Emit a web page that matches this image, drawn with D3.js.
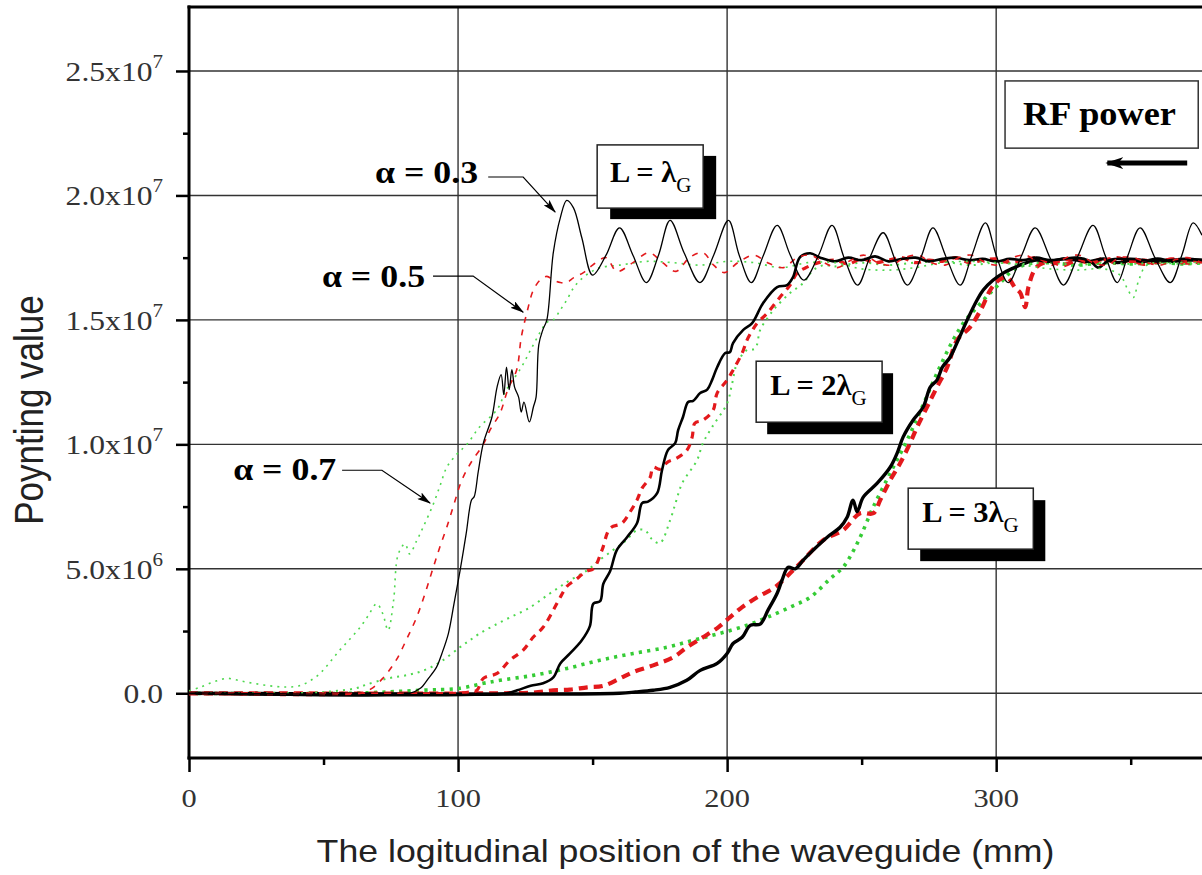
<!DOCTYPE html>
<html>
<head>
<meta charset="utf-8">
<script src="https://cdn.jsdelivr.net/npm/d3@7"></script>
<style>
  body { margin: 0; background: #fff; }
  svg { display: block; }
</style>
</head>
<body>
<svg id="chart" width="1202" height="875"></svg>
<script>
// ---- Axis ticks (Poynting values in units of 1e6) ----
const xTicks = [0, 100, 200, 300];
const xMinorTicks = [50, 150, 250, 350];
const yTicks = [0, 5, 10, 15, 20, 25];
const yTickMantissa = ["0.0", "5.0x10", "1.0x10", "1.5x10", "2.0x10", "2.5x10"];
const yTickExponent = ["", "6", "7", "7", "7", "7"];
const yMinorTicks = [2.5, 7.5, 12.5, 17.5, 22.5];

// ---- Series: [position (mm), Poynting value (x1e6)] ----
// L = λG
const lg1_a03 = [[0,0],[82,0],[86,0.2],[89,0.6],[92,1.05],[94,1.6],[96.4,2.4],[98.5,3.6],[100.7,4.9],[103,6.4],[105,7.76],[106,7.9],[107.5,8.9],[109.4,10.05],[112.6,11.1],[114.5,12.3],[116,12.8],[117,12.0],[118,13.1],[119,12.2],[120,13.0],[121,12.3],[122.5,11.9],[123.5,11.3],[124.5,11.7],[126.5,10.9],[128,11.5],[129,11.9],[130,14.0],[131.5,14.6],[133,15.0],[135.4,17.7],[138,19.1],[140.4,19.8],[142.9,19.5],[146,18.3],[150,16.8],[155,17.6],[160,18.7],[165,17.6],[170,16.5],[174.5,17.6],[178.8,19.0],[184,17.7],[189.9,16.5],[195,17.6],[200.5,19.0],[204.5,17.6],[209,16.5],[213.5,17.6],[218.6,18.8],[223.5,17.6],[228.5,16.6],[234,17.6],[239,18.8],[243.5,17.5],[248.5,16.4],[253,17.5],[258,18.5],[262.5,17.4],[267,16.4],[272,17.5],[276.5,18.7],[281.5,17.5],[286.6,16.4],[291,17.6],[296,18.9],[300,17.6],[304.5,16.5],[309.5,17.6],[314.5,18.7],[320,17.5],[325,16.4],[330.5,17.6],[336,18.8],[340.5,17.6],[345,16.5],[349,17.6],[353.5,18.7],[359,17.5],[364.7,16.5],[369,17.6],[373.2,18.9],[376.5,18.4]];
const lg1_a05 = [[0,0],[64,0],[68,0.2],[72,0.6],[77,1.33],[81,2.2],[84.6,3.05],[88,4.1],[90.8,5.06],[93,5.8],[95.8,6.67],[98.5,7.6],[101.4,8.56],[105,9.3],[109.4,10.0],[112,10.6],[115.6,11.25],[118.5,12.2],[121.8,13.0],[123.5,14.3],[125.6,15.3],[128,16.2],[130.5,16.6],[133,16.75],[135.4,16.6],[138,16.5],[140.4,16.5],[143,16.7],[146.6,16.9],[150,17.2],[155,17.5],[159,16.95],[165,17.3],[171,17.7],[176,17.3],[181,16.95],[186,17.5],[191,17.7],[195,17.2],[199,16.9],[204,17.3],[210,17.6],[215,17.3],[221,17.1],[226,17.5],[231,17.6],[236,17.3],[241,17.1],[246,17.4],[251,17.6],[256,17.3],[261,17.2],[266,17.5],[271,17.6],[276,17.3],[281,17.2],[286,17.5],[291,17.6],[296,17.3],[301,17.2],[306,17.5],[311,17.6],[316,17.3],[321,17.2],[326,17.5],[331,17.6],[336,17.3],[341,17.2],[346,17.5],[351,17.5],[356,17.3],[361,17.2],[366,17.4],[371,17.5],[376.5,17.3]];
const lg1_a07 = [[0,0.1],[4,0.24],[9,0.45],[14,0.6],[19,0.5],[24,0.4],[30,0.3],[36,0.25],[41,0.3],[45,0.5],[48.7,0.8],[52,1.2],[56,1.73],[60,2.2],[63.6,2.65],[66.5,3.1],[69.8,3.6],[72,3.2],[74,2.53],[76,3.7],[77.8,5.6],[80.3,6.0],[82,5.6],[84.5,6.1],[87,6.67],[90.8,7.6],[93.5,8.4],[95.8,9.08],[99.5,9.6],[103.3,10.0],[108,10.7],[114.5,11.4],[118,12.2],[123,13.0],[127,13.8],[130.5,14.5],[133,14.9],[135.4,15.0],[138,15.4],[140.4,15.8],[143,16.3],[145.4,16.6],[149,16.9],[152.8,17.1],[160,17.2],[170,17.35],[180,17.3],[190,17.2],[200,17.35],[210,17.3],[220,17.1],[230,17.3],[240,17.3],[250,17.05],[260,17.0],[270,17.1],[280,17.3],[290,17.35],[300,17.3],[310,17.2],[320,17.05],[330,17.0],[340,17.05],[346,16.8],[349,16.2],[351,15.9],[353,16.6],[356,17.2],[365,17.3],[376.5,17.3]];

// L = 2λG
const lg2_a03 = [[0,0],[118,0],[122,0.12],[127,0.3],[131.6,0.4],[135.4,0.64],[138,1.2],[141.6,1.6],[146,2.13],[149,2.7],[150.3,3.6],[152.8,3.7],[154,4.4],[156.5,4.9],[159,5.75],[162.8,6.27],[166.5,6.83],[168.4,7.64],[170.6,7.7],[174,8.04],[175.8,8.96],[178,9.77],[180.7,10.05],[181.8,10.57],[183.6,11.1],[185.5,11.7],[187.4,11.75],[190,12.06],[192.6,12.2],[194.4,12.58],[196.3,13.1],[199.3,13.67],[201,13.7],[202.2,14.07],[206,14.6],[209.3,14.87],[213.4,15.68],[218.6,16.32],[222.3,16.4],[224.5,16.72],[227.1,17.52],[230.9,17.68],[234.6,17.5],[240,17.35],[245,17.5],[250,17.4],[255,17.55],[260,17.35],[265,17.45],[270,17.5],[275,17.35],[280,17.45],[285,17.5],[290,17.4],[295,17.45],[300,17.35],[305,17.45],[310,17.4],[315,17.5],[320,17.4],[325,17.45],[330,17.5],[335,17.35],[338,17.1],[342,17.4],[350,17.45],[360,17.35],[370,17.45],[376.5,17.4]];
const lg2_a05 = [[0,0],[100,0],[104,0.05],[107,0.12],[109.4,0.6],[114.5,0.8],[119.3,1.33],[124.2,1.73],[127.9,2.25],[131.6,2.65],[135.4,3.34],[138,3.86],[140.5,4.3],[144.2,4.6],[147.5,4.9],[150.3,5.0],[153.5,5.75],[156.5,6.63],[160.9,6.83],[163.9,7.28],[166.5,7.76],[168.4,8.24],[171.4,8.68],[172.5,9.08],[175,9.0],[178,9.3],[181.3,9.45],[185.1,9.77],[187,10.29],[188,10.85],[191,10.97],[194.8,11.37],[196.3,12.06],[200,12.58],[202.2,12.98],[205.6,13.67],[207.4,14.19],[209.5,14.6],[211.2,14.87],[214.9,15.27],[219.7,15.92],[223.4,16.4],[226,16.88],[229.7,17.12],[234,17.3],[240,17.4],[245,17.25],[250,17.45],[255,17.3],[260,17.4],[265,17.5],[270,17.3],[275,17.4],[280,17.35],[285,17.5],[290,17.3],[295,17.4],[300,17.45],[305,17.3],[310,17.4],[315,17.5],[320,17.3],[325,17.4],[330,17.45],[335,17.3],[340,17.4],[345,17.5],[350,17.35],[355,17.4],[360,17.3],[365,17.45],[370,17.4],[376.5,17.35]];
const lg2_a07 = [[0,0],[45,0.02],[55,0.1],[62,0.2],[66,0.35],[74,0.6],[82,0.75],[88,0.95],[94,1.3],[100.7,1.85],[104,2.1],[108,2.4],[113,2.7],[119.3,3.05],[126,3.4],[134,4.0],[141,4.5],[148,4.94],[152,5.3],[157.6,5.75],[162,6.1],[166.5,6.55],[169.5,6.55],[172,6.2],[175,6.03],[178.8,6.95],[181,7.7],[183.3,8.44],[188.8,9.36],[191,10.05],[194.4,10.69],[200,11.65],[201.9,12.46],[203.7,13.26],[207.4,13.79],[210.4,13.85],[212.3,14.6],[215.2,15.1],[218,15.5],[223.4,16.08],[228.3,16.48],[232,17.0],[236,17.2],[240,17.15],[250,17.3],[260,17.2],[270,17.3],[280,17.35],[290,17.2],[300,17.3],[310,17.25],[320,17.3],[330,17.2],[340,17.3],[350,17.25],[360,17.3],[370,17.25],[376.5,17.3]];

// L = 3λG
const lg3_a03 = [[0,0],[160,0],[166,0.05],[172.5,0.12],[178.8,0.24],[185,0.52],[190,0.92],[196.3,1.2],[200,1.6],[202.2,2.0],[205.6,2.25],[208.6,2.73],[212.3,2.78],[215.2,3.34],[218.6,4.02],[220.4,4.54],[222.7,5.06],[225.3,5.0],[228.3,5.35],[232,5.75],[237.2,6.27],[242,6.67],[244.6,7.07],[246.8,7.76],[248.3,7.3],[250.6,7.88],[255.8,8.44],[260.6,9.08],[263.2,9.65],[265.4,10.29],[269.1,10.97],[272.9,11.5],[275.5,12.3],[278,12.58],[280,13.1],[282.9,13.5],[285.9,14.19],[289.2,14.99],[292.9,15.8],[295.2,16.2],[298.9,16.6],[302.6,16.88],[306.3,17.08],[310,17.25],[315,17.4],[320,17.35],[325,17.45],[330,17.4],[335,17.35],[340,17.45],[345,17.3],[350,17.4],[355,17.35],[360,17.45],[365,17.35],[370,17.4],[376.5,17.4]];
const lg3_a05 = [[0,0],[115,0],[128,0.03],[135.4,0.12],[141.6,0.15],[148,0.24],[154,0.3],[160.2,0.6],[165.1,0.85],[172.5,1.12],[180,1.45],[185.1,1.85],[191,2.25],[196.7,2.65],[201,3.05],[205.6,3.46],[211.2,3.86],[217.8,4.26],[223.4,4.82],[228.3,5.35],[235.7,6.15],[243.1,6.55],[249.4,7.23],[254.3,7.23],[256.9,7.76],[260.6,8.56],[264.3,9.24],[268,10.05],[270.6,10.69],[274.3,11.5],[278,12.3],[281.8,13.1],[285.5,14.19],[290.3,14.71],[294.8,15.51],[297.8,16.2],[301,16.6],[304,16.72],[307,16.3],[309,16.08],[310.8,15.51],[312,16.32],[315,17.12],[320,17.35],[325,17.2],[330,17.4],[335,17.3],[340,17.45],[345,17.3],[350,17.4],[355,17.25],[360,17.35],[365,17.4],[370,17.3],[376.5,17.35]];
const lg3_a07 = [[0,0],[60,0],[85.9,0.12],[100.7,0.2],[109.4,0.4],[115.6,0.52],[127.9,0.72],[140.5,1.0],[152.8,1.33],[165.1,1.6],[177.7,1.85],[187.4,2.13],[197.4,2.41],[207.4,2.73],[214.9,3.05],[223.4,3.46],[230.9,3.86],[238.3,4.6],[243.1,5.06],[246.8,5.7],[250,6.4],[254.3,7.48],[260.6,8.84],[266.9,10.17],[272.5,11.5],[278,12.86],[284,14.19],[288,14.9],[292.9,15.51],[297,16.0],[301.5,16.48],[306.3,17.0],[312,17.25],[320,17.3],[330,17.2],[340,17.3],[350,17.25],[360,17.3],[370,17.25],[376.5,17.3]];

// ---- Layout ----
const plot = { left: 189, right: 1202, top: 7, bottom: 758 };
const SX = 1.17; // horizontal stretch applied to text

const svg = d3.select("#chart");
const x = d3.scaleLinear().domain([0, 376.5]).range([plot.left, plot.right]);
const y = d3.scaleLinear().domain([-2.6, 27.57]).range([plot.bottom, plot.top]);

const defs = svg.append("defs");
defs.append("clipPath").attr("id", "plotClip")
  .append("rect")
  .attr("x", plot.left).attr("y", plot.top)
  .attr("width", plot.right - plot.left).attr("height", plot.bottom - plot.top);

defs.append("marker")
  .attr("id", "arrowHead")
  .attr("markerUnits", "userSpaceOnUse")
  .attr("viewBox", "0 0 14 8")
  .attr("markerWidth", 14).attr("markerHeight", 8)
  .attr("refX", 13).attr("refY", 4)
  .attr("orient", "auto")
  .append("path").attr("d", "M0,0 L14,4 L0,8 L3,4 Z").attr("fill", "#000");

defs.append("marker")
  .attr("id", "arrowHeadBig")
  .attr("markerUnits", "userSpaceOnUse")
  .attr("viewBox", "0 0 18 12")
  .attr("markerWidth", 18).attr("markerHeight", 12)
  .attr("refX", 16).attr("refY", 6)
  .attr("orient", "auto")
  .append("path").attr("d", "M0,0 L18,6 L0,12 L5,6 Z").attr("fill", "#000");

// ---- Grid ----
const grid = svg.append("g");
grid.selectAll("line.h").data(yTicks).join("line")
  .attr("x1", plot.left).attr("x2", plot.right)
  .attr("y1", d => y(d)).attr("y2", d => y(d))
  .attr("stroke", "#333").attr("stroke-width", 1.4);
grid.selectAll("line.v").data(xTicks.filter(d => d > 0)).join("line")
  .attr("x1", d => x(d)).attr("x2", d => x(d))
  .attr("y1", plot.top).attr("y2", plot.bottom)
  .attr("stroke", "#333").attr("stroke-width", 1.4);

// ---- Axes ----
const yAxis = svg.append("g").attr("transform", `translate(${plot.left},0)`)
  .call(d3.axisLeft(y).tickValues(yTicks).tickSize(13).tickFormat(""));
const yAxisMinor = svg.append("g").attr("transform", `translate(${plot.left},0)`)
  .call(d3.axisLeft(y).tickValues(yMinorTicks).tickSize(6).tickFormat(""));
const xAxis = svg.append("g").attr("transform", `translate(0,${plot.bottom})`)
  .call(d3.axisBottom(x).tickValues(xTicks).tickSize(14).tickFormat(""));
const xAxisMinor = svg.append("g").attr("transform", `translate(0,${plot.bottom})`)
  .call(d3.axisBottom(x).tickValues(xMinorTicks).tickSize(7).tickFormat(""));
[yAxis, yAxisMinor, xAxis, xAxisMinor].forEach(g => {
  g.select(".domain").remove();
  g.selectAll(".tick line").attr("stroke", "#000").attr("stroke-width", 2.5);
});

// frame lines
svg.append("line").attr("x1", plot.left).attr("x2", plot.left)
  .attr("y1", plot.top - 1.5).attr("y2", plot.bottom + 1.5)
  .attr("stroke", "#000").attr("stroke-width", 3);
svg.append("line").attr("x1", plot.left - 1.5).attr("x2", plot.right)
  .attr("y1", plot.bottom).attr("y2", plot.bottom)
  .attr("stroke", "#000").attr("stroke-width", 3);
svg.append("line").attr("x1", plot.left - 1.5).attr("x2", plot.right)
  .attr("y1", plot.top).attr("y2", plot.top)
  .attr("stroke", "#000").attr("stroke-width", 3);

// ---- Tick labels ----
const serif = "'Liberation Serif', 'Times New Roman', serif";
const sans = "'Liberation Sans', Arial, sans-serif";

yTicks.forEach((v, i) => {
  const t = svg.append("text")
    .attr("transform", `translate(${plot.left - 26},${y(v) + 10}) scale(${SX},1)`)
    .attr("text-anchor", "end")
    .attr("font-family", serif).attr("font-size", 27).attr("fill", "#333");
  t.append("tspan").text(yTickMantissa[i]);
  if (yTickExponent[i]) {
    t.append("tspan").attr("dy", -13).attr("font-size", 18).text(yTickExponent[i]);
  }
});

xTicks.forEach(v => {
  svg.append("text")
    .attr("transform", `translate(${x(v)},${plot.bottom + 49}) scale(${SX},1)`)
    .attr("text-anchor", "middle")
    .attr("font-family", serif).attr("font-size", 26).attr("fill", "#333")
    .text(v);
});

// ---- Axis titles ----
svg.append("text")
  .attr("transform", `translate(${(313 + 1058) / 2},862) scale(${SX},1)`)
  .attr("text-anchor", "middle")
  .attr("font-family", sans).attr("font-size", 30.5).attr("fill", "#222")
  .text("The logitudinal position of the waveguide (mm)");

svg.append("text")
  .attr("transform", `translate(43,410) scale(${SX},1) rotate(-90)`)
  .attr("text-anchor", "middle")
  .attr("font-family", sans).attr("font-size", 35).attr("fill", "#222")
  .text("Poynting value");

// ---- Curves ----
const line = d3.line()
  .x(d => x(d[0])).y(d => y(d[1]))
  .curve(d3.curveCatmullRom.alpha(0.5));

const RED = "#e3191c", GREEN = "#35cc35", GREEN_LIGHT = "#4fd84f";
const series = [
  { data: lg3_a07, color: GREEN, width: 3.6, dash: "3.2,5.2" },
  { data: lg3_a05, color: RED, width: 4.2, dash: "9,6" },
  { data: lg3_a03, color: "#000", width: 3.4, dash: null },
  { data: lg2_a07, color: GREEN_LIGHT, width: 2.0, dash: "2,5" },
  { data: lg2_a05, color: RED, width: 3.2, dash: "7,6" },
  { data: lg2_a03, color: "#000", width: 2.6, dash: null },
  { data: lg1_a07, color: GREEN_LIGHT, width: 1.6, dash: "2,5" },
  { data: lg1_a05, color: RED, width: 1.6, dash: "6,7" },
  { data: lg1_a03, color: "#000", width: 1.3, dash: null }
];

const curves = svg.append("g").attr("clip-path", "url(#plotClip)");
curves.selectAll("path").data(series).join("path")
  .attr("d", d => line(d.data))
  .attr("fill", "none")
  .attr("stroke", d => d.color)
  .attr("stroke-width", d => d.width)
  .attr("stroke-dasharray", d => d.dash)
  .attr("stroke-linejoin", "round");

// ---- Annotations (positions in data units) ----
const alphaLabels = [
  { text: "α = 0.3", at: [69.1, 20.5], path: [[111.2, 20.74], [124.2, 20.74], [136.1, 19.33]] },
  { text: "α = 0.5", at: [49.4, 16.32], path: [[90.7, 16.76], [105.6, 16.76], [124.2, 15.31]] },
  { text: "α = 0.7", at: [16.4, 8.56], path: [[56.9, 8.96], [71.7, 8.96], [89.6, 7.64]] }
];
const annot = svg.append("g");
alphaLabels.forEach(a => {
  annot.append("text")
    .attr("transform", `translate(${x(a.at[0])},${y(a.at[1])}) scale(1.12,1)`)
    .attr("font-family", serif).attr("font-weight", "bold").attr("font-size", 32)
    .attr("fill", "#000").text(a.text);
  annot.append("path")
    .attr("d", d3.line().x(d => x(d[0])).y(d => y(d[1]))(a.path))
    .attr("fill", "none").attr("stroke", "#000").attr("stroke-width", 1.2)
    .attr("marker-end", "url(#arrowHead)");
});

const lengthBoxes = [
  { mult: "", box: [151.7, 22.03, 191.1, 19.49], textAt: [156.5, 20.54], shadow: [13, 11] },
  { mult: "2", box: [210.8, 13.34, 257.6, 10.89], textAt: [216.0, 11.98], shadow: [11, 12] },
  { mult: "3", box: [267.3, 8.24, 313.8, 5.79], textAt: [272.5, 6.87], shadow: [12, 12] }
];
lengthBoxes.forEach(b => {
  const x0 = x(b.box[0]), y0 = y(b.box[1]), x1 = x(b.box[2]), y1 = y(b.box[3]);
  annot.append("rect")
    .attr("x", x0 + b.shadow[0]).attr("y", y0 + b.shadow[1])
    .attr("width", x1 - x0).attr("height", y1 - y0).attr("fill", "#000");
  annot.append("rect")
    .attr("x", x0).attr("y", y0).attr("width", x1 - x0).attr("height", y1 - y0)
    .attr("fill", "#fff").attr("stroke", "#222").attr("stroke-width", 1.5);
  const t = annot.append("text")
    .attr("transform", `translate(${x(b.textAt[0])},${y(b.textAt[1])}) scale(1.05,1)`)
    .attr("font-family", serif).attr("font-size", 29).attr("fill", "#000");
  t.append("tspan").attr("font-weight", "bold").text(`L = ${b.mult}λ`);
  t.append("tspan").attr("dy", 10).attr("font-size", 20).text("G");
});

// RF power label with direction arrow (pointing toward the input end)
const rf = { box: [303.3, 24.6, 375.1, 21.9], textAt: [310, 22.83], arrow: [[371, 21.3], [341.3, 21.3]] };
{
  const x0 = x(rf.box[0]), y0 = y(rf.box[1]), x1 = x(rf.box[2]), y1 = y(rf.box[3]);
  annot.append("rect")
    .attr("x", x0).attr("y", y0).attr("width", x1 - x0).attr("height", y1 - y0)
    .attr("fill", "#fff").attr("stroke", "#333").attr("stroke-width", 1.5);
  annot.append("text")
    .attr("transform", `translate(${x(rf.textAt[0])},${y(rf.textAt[1])}) scale(1.1,1)`)
    .attr("font-family", serif).attr("font-weight", "bold").attr("font-size", 33)
    .attr("fill", "#000").text("RF power");
  annot.append("path")
    .attr("d", d3.line().x(d => x(d[0])).y(d => y(d[1]))(rf.arrow))
    .attr("stroke", "#000").attr("stroke-width", 5).attr("fill", "none")
    .attr("marker-end", "url(#arrowHeadBig)");
}
</script>
</body>
</html>
